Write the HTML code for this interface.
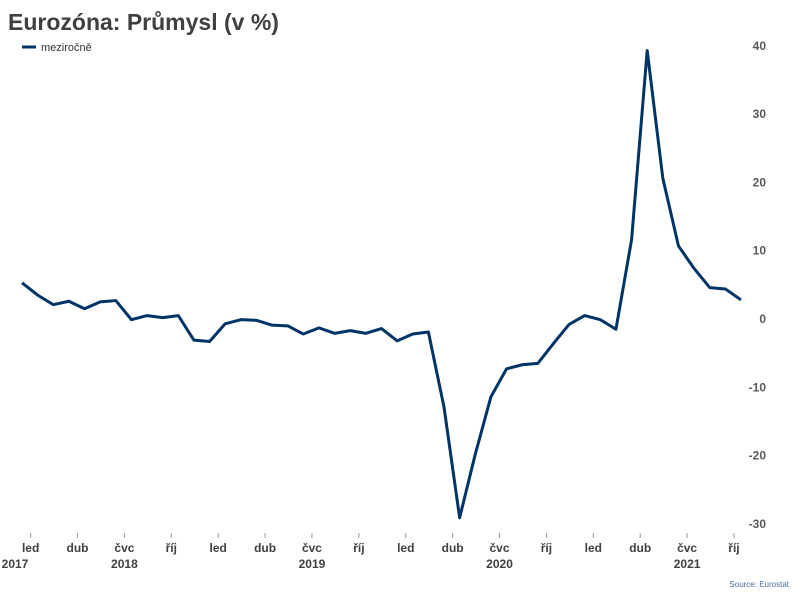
<!DOCTYPE html>
<html><head><meta charset="utf-8"><style>
body{margin:0;background:#fff;font-family:"Liberation Sans",sans-serif}
svg text{font-family:"Liberation Sans",sans-serif}
</style></head><body>
<svg id="c" width="800" height="600">
<text x="8" y="30" font-size="23" font-weight="bold" fill="#404040">Eurozóna: Průmysl (v %)</text>
<g>
<line x1="22" y1="47" x2="36" y2="47" stroke="#003366" stroke-width="3"/>
<text x="41" y="51" font-size="11" fill="#333">meziročně</text>
</g>
<text x="789" y="587" font-size="8" fill="#4a6f9a" text-anchor="end">Source: Eurostat</text>
</svg>
<script>
const values=[5.3,3.5,2.1,2.6,1.5,2.5,2.7,-0.1,0.5,0.2,0.5,-3.1,-3.3,-0.7,-0.1,-0.2,-0.9,-1.0,-2.2,-1.3,-2.1,-1.7,-2.1,-1.4,-3.2,-2.2,-1.9,-12.9,-29.1,-19.8,-11.4,-7.3,-6.7,-6.5,-3.6,-0.8,0.5,-0.1,-1.5,11.6,39.3,20.6,10.7,7.4,4.6,4.4,2.8];
const yTicks=[40,30,20,10,0,-10,-20,-30];
const monthLabels=["led","dub","čvc","říj"];
const years=["2017","2018","2019","2020","2021"];
const NS="http://www.w3.org/2000/svg",svg=document.getElementById('c');
const x=i=>22+i*15.63, y=v=>319-v*6.83;
function mk(t,a){const e=document.createElementNS(NS,t);for(const k in a)e.setAttribute(k,a[k]);svg.appendChild(e);return e;}
yTicks.forEach(v=>{const t=mk('text',{x:766,y:y(v)+4,'font-size':12,'font-weight':'bold',fill:'#595959','text-anchor':'end'});t.textContent=v;

});
// month ticks: Jan2018 index1, every 3 months
for(let i=1,k=0;i<=46;i+=3,k++){const lx=x(i)-7;
const t=mk('text',{x:lx,y:552,'font-size':12,'font-weight':'bold',fill:'#404040','text-anchor':'middle'});t.textContent=monthLabels[k%4];


const l=mk('line',{x1:lx,x2:lx,y1:533,y2:538,stroke:'#999'});

}
years.forEach((yr,j)=>{const lx=j==0?15:x(1+(j-1)*12+6)-7;
const t=mk('text',{x:lx,y:568,'font-size':12,'font-weight':'bold',fill:'#404040','text-anchor':'middle'});t.textContent=yr;

});
const p=mk('polyline',{points:values.map((v,i)=>x(i)+','+y(v)).join(' '),fill:'none',stroke:'#003366','stroke-width':3,'stroke-linejoin':'round'});


</script>
</body></html>
